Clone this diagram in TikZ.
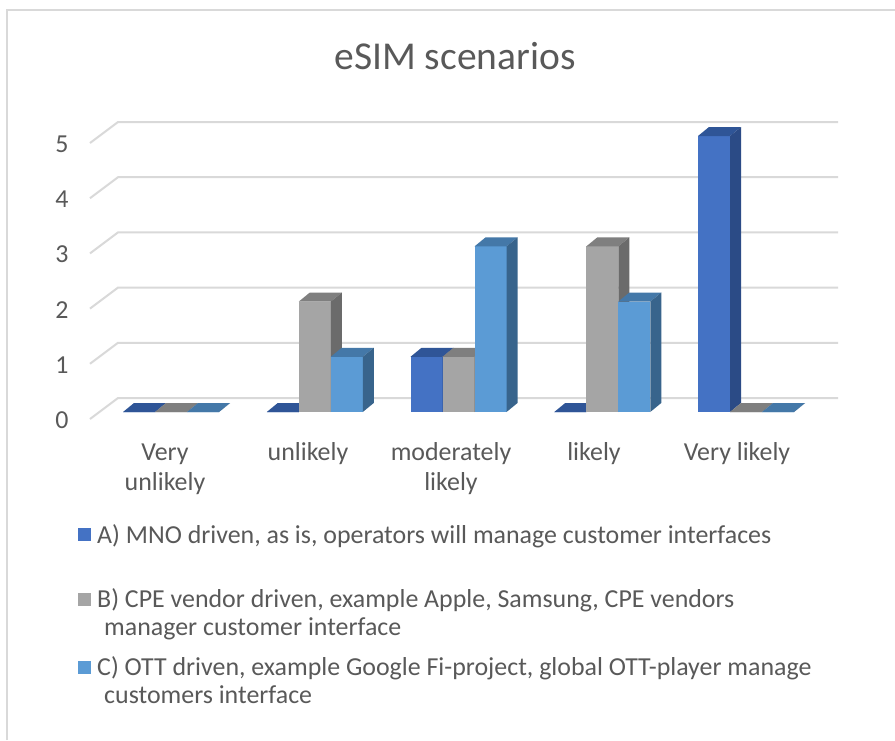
\documentclass[tikz,border=0pt]{standalone}
\usepackage{fontspec}
\setmainfont{Carlito}
\definecolor{txt}{HTML}{595959}
\definecolor{grid}{HTML}{D9D9D9}
\definecolor{frame}{HTML}{D9D9D9}
\definecolor{aF}{HTML}{4472C4}
\definecolor{aT}{HTML}{2F5597}
\definecolor{aS}{HTML}{2B4B86}
\definecolor{bF}{HTML}{A5A5A5}
\definecolor{bT}{HTML}{7F7F7F}
\definecolor{bS}{HTML}{6B6B6B}
\definecolor{cF}{HTML}{5B9BD5}
\definecolor{cT}{HTML}{4478A8}
\definecolor{cS}{HTML}{38648C}
\newcommand\lblfont{\fontsize{25.9}{30}\selectfont}
% one 3-D column: front-left x, value, front/top/side colours
\newcommand\colbar[5]{%
  \pgfmathsetmacro\ytop{412-55.2*#2}%
  \fill[#3] (#1,412) rectangle (#1+32,\ytop);
  \fill[#4] (#1,\ytop) -- (#1+11,\ytop-9) -- (#1+43,\ytop-9) -- (#1+32,\ytop) -- cycle;
  \fill[#5] (#1+32,412) -- (#1+43,403) -- (#1+43,\ytop-9) -- (#1+32,\ytop) -- cycle;
}
\begin{document}
\begin{tikzpicture}[x=1pt,y=-1pt,
  gridline/.style={grid,line width=2pt},
  lbl/.style={text=txt,font=\lblfont,inner sep=0pt,anchor=base},
  leg/.style={text=txt,font=\lblfont,inner sep=0pt,anchor=base west}]
\useasboundingbox (0,0) rectangle (895,740);
\fill[white] (0,0) rectangle (895,740);
% chart frame
\draw[frame,line width=1.5pt] (7,740) -- (7,10) -- (895,10);
% title
\node[lbl,font=\fontsize{39.5}{47}\selectfont] (title) at (455,69) {eSIM scenarios};
% back wall and floor gridlines
\foreach \v in {0,...,5} {
  \pgfmathsetmacro\yb{398-55.2*\v}
  \draw[gridline] (90,\yb+21) -- (118,\yb) -- (838,\yb);
  \node[lbl,anchor=center] (y\v) at (62,\yb+22) {\v};
}
% columns
\foreach \g/\a/\b/\c in {0/0/0/0, 1/0/2/1, 2/1/1/3, 3/0/3/2, 4/5/0/0} {
  \pgfmathsetmacro\gx{123+143.75*\g}
  \colbar{\gx}{\a}{aF}{aT}{aS}
  \colbar{\gx+32}{\b}{bF}{bT}{bS}
  \colbar{\gx+64}{\c}{cF}{cT}{cS}
}
% category labels
\node[lbl] (c1a) at (165,460) {Very};
\node[lbl] (c1b) at (165,490) {unlikely};
\node[lbl] (c2) at (308,460) {unlikely};
\node[lbl] (c3a) at (451,460) {moderately};
\node[lbl] (c3b) at (451,490) {likely};
\node[lbl] (c4) at (594,460) {likely};
\node[lbl] (c5) at (737,460) {Very likely};
% legend
\fill[aF] (78,528) rectangle (91,541);
\node[leg] (la) at (97,543) {A) MNO driven, as is, operators will manage customer interfaces};
\fill[bF] (78,593) rectangle (91,606);
\node[leg] (lb1) at (97,607) {B) CPE vendor driven, example Apple, Samsung, CPE vendors};
\node[leg] (lb2) at (104,635) {manager customer interface};
\fill[cF] (78,661) rectangle (91,674);
\node[leg] (lc1) at (97,675) {C) OTT driven, example Google Fi-project, global OTT-player manage};
\node[leg] (lc2) at (104,703) {customers interface};
\end{tikzpicture}
\end{document}
